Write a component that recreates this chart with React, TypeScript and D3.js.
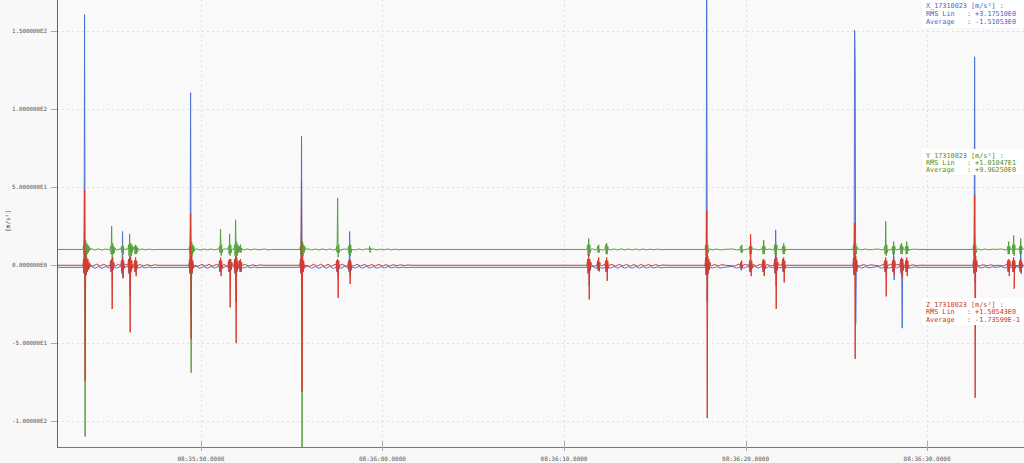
import React from "react";
import * as d3 from "d3";

// ---------- data ----------
// time in seconds after 08:35:00
const timeDomain = [42.07, 95.34];
const valueDomain = [-116.7, 169.9];
const xTickTimes = [50, 60, 70, 80, 90];
const xTickLabels = ["08:35:50.0000", "08:36:00.0000", "08:36:10.0000", "08:36:20.0000", "08:36:30.0000"];
const yTickValues = [150, 100, 50, 0, -50, -100];
const yAxisTitle = "[m/s²]";

const channelNames = ["X_17310023 [m/s²] :", "Y_17310023 [m/s²] :", "Z_17310023 [m/s²] :"];
const channelRms = ["+3.17510E0", "+1.01047E1", "+1.50543E0"];
const channelAvg = ["-1.51053E0", "+9.96250E0", "-1.73599E-1"];
const channelBase = [-1.51053, 9.9625, -0.173599];

const SPIKE_DT = 0.03;
const RIPPLE_DT = 0.2;

type Ev = { t: number; v: number[] };

// X channel (deviation from average)
const xSpikes: Ev[] = [
  { t: 43.5, v: [0, 3, -4, 162, -30, 6, -5, 4, -3, 2, 0] },
  { t: 44.99, v: [0, 2, -3, 3, -2, 0] },
  { t: 45.59, v: [0, 3, -4, 23, -7, 3, 0] },
  { t: 45.98, v: [0, 3, -4, 5, -18, 3, -2, 0] },
  { t: 46.31, v: [0, 2, -3, 3, -2, 0] },
  { t: 49.34, v: [0, 3, -4, 112, -30, 5, -4, 3, 0] },
  { t: 50.99, v: [0, 2, -3, 3, -2, 0] },
  { t: 51.49, v: [0, 2, -3, 4, -3, 0] },
  { t: 51.82, v: [0, 3, -4, 5, -22, 3, -2, 0] },
  { t: 52.09, v: [0, 2, -3, 3, -3, 0] },
  { t: 55.45, v: [0, 3, -4, 84, -12, 4, -3, 2, 0] },
  { t: 57.44, v: [0, 2, -3, 4, -6, 2, 0] },
  { t: 58.1, v: [0, 3, -3, 23, -6, 3, -2, 0] },
  { t: 71.27, v: [0, 3, -4, 5, -12, 3, -2, 0] },
  { t: 71.82, v: [0, 2, -2, 3, -2, 0] },
  { t: 72.26, v: [0, 2, -3, 3, -2, 0] },
  { t: 77.77, v: [0, 4, -5, 180, -22, 5, -4, 3, 0] },
  { t: 79.7, v: [0, 2, -2, 2, 0] },
  { t: 80.19, v: [0, 2, -3, 3, -2, 0] },
  { t: 80.91, v: [0, 2, -3, 3, -3, 0] },
  { t: 81.57, v: [0, 3, -4, 24, -12, 3, -2, 0] },
  { t: 82.01, v: [0, 2, -3, 3, -2, 0] },
  { t: 85.92, v: [0, 4, -5, 152, 130, -36, 5, -3, 0] },
  { t: 87.63, v: [0, 2, -3, 3, -3, 0] },
  { t: 88.07, v: [0, 3, -3, 14, -8, 3, 0] },
  { t: 88.51, v: [0, 3, -4, 5, -39, 3, -2, 0] },
  { t: 88.79, v: [0, 2, -3, 3, -2, 0] },
  { t: 92.53, v: [0, 3, -4, 135, -10, 4, -3, 0] },
  { t: 94.41, v: [0, 2, -3, 3, -2, 0] },
  { t: 94.68, v: [0, 2, -3, 4, -3, 0] },
  { t: 95.07, v: [0, 3, -3, 14, -4, 2, 0] },
];
const xRipples: Ev[] = [
  { t: 43.95, v: [0.7, -0.6, 0.5, -0.7, 0.6, -0.5, 0.6, -0.5, 0.5, -0.6, 0.5, -0.4, 0.5, -0.4, 0.4, -0.4, 0.3, -0.3, 0] },
  { t: 49.75, v: [0.7, -0.6, 0.5, -0.6, 0.6, -0.5, 0.5, -0.6, 0.6, -0.5, 0.4, -0.5, 0.5, -0.4, 0.4, -0.3, 0.3, -0.2, 0] },
  { t: 55.9, v: [0.8, -0.7, 0.6, -0.7, 0.7, -0.6, 0.6, -0.7, 0.7, -0.6, 0.6, -0.7, 0.6, -0.5, 0.6, -0.6, 0.7, -0.5, 0.5, -0.6, 0.5, -0.4, 0.5, -0.4, 0.3, -0.3, 0.2, -0.2, 0] },
  { t: 71.55, v: [0.7, -0.6, 0.6, -0.7, 0.6, -0.5, 0.6, -0.6, 0.7, -0.6, 0.5, -0.6, 0.6, -0.5, 0.5, -0.5, 0.4, -0.4, 0.3, -0.3, 0] },
  { t: 78.0, v: [0.5, -0.5, 0.4, -0.4, 0] },
  { t: 79.3, v: [0.6, -0.5, 0.6, -0.6, 0.5, -0.6, 0.6, -0.5, 0.5, -0.6, 0.5, -0.4, 0.4, -0.3, 0.3, 0] },
  { t: 86.2, v: [0.5, -0.5, 0.4, -0.3, 0] },
  { t: 87.3, v: [0.5, -0.6, 0.6, -0.5, 0.6, -0.5, 0.5, -0.5, 0.4, -0.4, 0.3, 0] },
  { t: 92.8, v: [0.5, -0.4, 0.4, -0.3, 0.3, 0] },
  { t: 94.1, v: [0.5, -0.5, 0.6, -0.5, 0.5, -0.4, 0.5] },
];

// Y channel
const ySpikes: Ev[] = [
  { t: 43.5, v: [0, 3, -3, 16, -120, 6, -5, 4, -3, 3, -2, 2, -1, 1, 0] },
  { t: 44.99, v: [0, 2, -3, 15, -6, 4, -3, 2, -2, 1, 0] },
  { t: 45.59, v: [0, 2, -2, 3, -3, 2, 0] },
  { t: 45.98, v: [0, 3, -4, 10, -5, 4, -4, 3, -2, 2, 0] },
  { t: 46.31, v: [0, 2, -3, 3, -3, 2, -2, 1, 0] },
  { t: 49.34, v: [0, 2, -3, 14, -79, 5, -4, 3, -2, 2, -1, 0] },
  { t: 50.99, v: [0, 2, -2, 13, -4, 3, -2, 0] },
  { t: 51.49, v: [0, 2, -3, 10, -4, 3, -2, 0] },
  { t: 51.82, v: [0, 3, -4, 19, -6, 5, -4, 3, -2, 2, -1, 0] },
  { t: 52.09, v: [0, 2, -2, 3, -2, 1, 0] },
  { t: 55.45, v: [0, 2, -3, 12, -135, 5, -4, 3, -2, 2, 0] },
  { t: 57.44, v: [0, 2, -2, 33, -5, 3, -2, 0] },
  { t: 58.1, v: [0, 2, -3, 6, -4, 3, -2, 0] },
  { t: 59.26, v: [0, 2, -2, 1, 0] },
  { t: 71.27, v: [0, 3, -4, 7, -4, 3, -2, 0] },
  { t: 71.82, v: [0, 2, -2, 3, -2, 0] },
  { t: 72.26, v: [0, 3, -3, 4, -3, 2, 0] },
  { t: 77.77, v: [0, 3, -4, 6, -5, 3, -2, 0] },
  { t: 79.7, v: [0, 2, -2, 3, -2, 0] },
  { t: 80.19, v: [0, 2, -3, 4, -3, 2, 0] },
  { t: 80.91, v: [0, 2, -3, 6, -3, 2, 0] },
  { t: 81.57, v: [0, 3, -3, 5, -4, 3, 0] },
  { t: 82.01, v: [0, 2, -3, 4, -3, 2, -1, 0] },
  { t: 85.92, v: [0, 3, -4, 16, -6, 4, -3, 2, 0] },
  { t: 87.63, v: [0, 2, -3, 18, -4, 3, -2, 0] },
  { t: 88.07, v: [0, 2, -3, 5, -3, 2, 0] },
  { t: 88.51, v: [0, 3, -3, 4, -3, 2, 0] },
  { t: 88.79, v: [0, 2, -3, 5, -3, 2, -1, 0] },
  { t: 92.53, v: [0, 3, -4, 8, -6, 3, -2, 0] },
  { t: 94.41, v: [0, 2, -3, 5, -3, 2, 0] },
  { t: 94.68, v: [0, 3, -3, 9, -4, 3, 0] },
  { t: 95.07, v: [0, 2, -3, 7, -3, 2, 0] },
];
const yRipples: Ev[] = [
  { t: 43.95, v: [0.5, -0.4, 0.4, -0.4, 0.3, -0.3, 0.4, -0.3, 0.3, -0.3, 0.3, -0.3, 0.3, -0.3, 0.3, -0.2, 0.2, -0.2, 0] },
  { t: 49.75, v: [0.4, -0.4, 0.3, -0.3, 0.3, -0.3, 0.3, -0.3, 0.4, -0.3, 0.3, -0.3, 0.4, -0.3, 0.3, -0.3, 0.3, -0.2, 0] },
  { t: 53.5, v: [0.3, -0.3, 0] },
  { t: 55.9, v: [0.4, -0.4, 0.3, -0.3, 0.3, -0.3, 0.3, -0.3, 0.3, -0.3, 0.3, -0.3, 0.3, -0.3, 0.3, -0.3, 0.4, -0.3, 0.3, -0.3, 0.2, -0.2, 0.3, -0.3, 0.2, -0.2, 0] },
  { t: 71.55, v: [0.4, -0.3, 0.3, -0.4, 0.3, -0.3, 0.3, -0.3, 0.4, -0.3, 0.3, -0.3, 0.3, -0.3, 0.3, -0.3, 0.2, -0.2, 0.2, -0.2, 0] },
  { t: 78.0, v: [0.3, -0.3, 0.3, -0.3, 0] },
  { t: 79.3, v: [0.3, -0.3, 0.4, -0.3, 0.3, -0.3, 0.3, -0.3, 0.3, -0.3, 0.3, -0.3, 0.2, -0.2, 0.2, 0] },
  { t: 86.2, v: [0.3, -0.3, 0.3, -0.2, 0] },
  { t: 87.3, v: [0.3, -0.3, 0.4, -0.3, 0.3, -0.3, 0.3, -0.3, 0.2, -0.2, 0.2, 0] },
  { t: 92.8, v: [0.3, -0.3, 0.3, -0.3, 0.2, 0] },
  { t: 94.1, v: [0.3, -0.3, 0.3, -0.3, 0.3, -0.3, 0.3] },
];

// Z channel
const zSpikes: Ev[] = [
  { t: 43.5, v: [0, 4, -5, 48, -74, 8, -6, 5, -4, 4, -3, 2, -2, 1, 0] },
  { t: 44.99, v: [0, 3, -4, 4, -28, 5, -3, 2, 0] },
  { t: 45.59, v: [0, 3, -4, 5, -8, 3, -2, 0] },
  { t: 45.98, v: [0, 4, -5, 6, -43, 5, -4, 3, -2, 0] },
  { t: 46.31, v: [0, 3, -4, 5, -7, 3, -2, 0] },
  { t: 49.34, v: [0, 4, -5, 33, -47, 6, -4, 3, -2, 0] },
  { t: 50.99, v: [0, 3, -4, 5, -7, 3, -2, 0] },
  { t: 51.49, v: [0, 3, -4, 4, -27, 4, -3, 2, 0] },
  { t: 51.82, v: [0, 4, -5, 6, -50, 5, -4, 3, -2, 0] },
  { t: 52.09, v: [0, 3, -3, 4, -4, 2, 0] },
  { t: 55.45, v: [0, 4, -5, 54, -81, 6, -4, 3, -2, 0] },
  { t: 57.44, v: [0, 3, -4, 4, -21, 3, -2, 0] },
  { t: 58.1, v: [0, 3, -3, 4, -12, 3, -2, 0] },
  { t: 71.27, v: [0, 4, -5, 7, -22, 4, -3, 2, 0] },
  { t: 71.82, v: [0, 3, -3, 5, -4, 2, 0] },
  { t: 72.26, v: [0, 3, -4, 5, -10, 3, -2, 0] },
  { t: 77.77, v: [0, 5, -6, 35, -98, 6, -5, 4, -3, 2, 0] },
  { t: 79.7, v: [0, 2, -2, 3, -2, 0] },
  { t: 80.19, v: [0, 3, -4, 20, -7, 3, -2, 0] },
  { t: 80.91, v: [0, 3, -4, 4, -7, 3, -2, 0] },
  { t: 81.57, v: [0, 4, -5, 6, -28, 5, -3, 2, 0] },
  { t: 82.01, v: [0, 4, -4, 5, -11, 3, -2, 0] },
  { t: 85.92, v: [0, 5, -6, 27, -60, 6, -4, 3, -2, 0] },
  { t: 87.63, v: [0, 3, -4, 5, -20, 3, -2, 0] },
  { t: 88.07, v: [0, 3, -4, 5, -6, 3, 0] },
  { t: 88.51, v: [0, 4, -4, 5, -8, 4, -3, 0] },
  { t: 88.79, v: [0, 3, -4, 5, -7, 3, -2, 0] },
  { t: 92.53, v: [0, 4, -5, 45, -85, 6, -4, 3, 0] },
  { t: 94.41, v: [0, 3, -4, 4, -7, 3, 0] },
  { t: 94.68, v: [0, 3, -4, 5, -15, 3, -2, 0] },
  { t: 95.07, v: [0, 3, -3, 4, -5, 2, 0] },
];
const zRipples: Ev[] = [
  { t: 44.05, v: [-0.6, 0.7, -0.5, 0.6, -0.6, 0.5, -0.6, 0.5, -0.5, 0.6, -0.5, 0.4, -0.5, 0.4, -0.4, 0.4, -0.3, 0.3, 0] },
  { t: 49.85, v: [-0.6, 0.6, -0.5, 0.6, -0.6, 0.5, -0.5, 0.6, -0.6, 0.5, -0.4, 0.5, -0.5, 0.4, -0.4, 0.3, -0.3, 0.2, 0] },
  { t: 56.0, v: [-0.7, 0.7, -0.6, 0.7, -0.7, 0.6, -0.6, 0.7, -0.6, 0.6, -0.7, 0.5, -0.6, 0.6, -0.5, 0.6, -0.6, 0.5, -0.5, 0.6, -0.5, 0.4, -0.5, 0.4, -0.3, 0.3, -0.2, 0.2, 0] },
  { t: 71.65, v: [-0.6, 0.7, -0.6, 0.6, -0.7, 0.5, -0.6, 0.6, -0.5, 0.6, -0.6, 0.5, -0.6, 0.5, -0.5, 0.5, -0.4, 0.4, -0.3, 0.2, 0] },
  { t: 78.1, v: [-0.5, 0.5, -0.4, 0.4, 0] },
  { t: 79.4, v: [-0.5, 0.6, -0.6, 0.5, -0.6, 0.6, -0.5, 0.5, -0.6, 0.5, -0.4, 0.4, -0.3, 0.3, -0.2, 0] },
  { t: 86.3, v: [-0.5, 0.5, -0.4, 0.3, 0] },
  { t: 87.4, v: [-0.5, 0.6, -0.5, 0.6, -0.5, 0.5, -0.5, 0.4, -0.4, 0.3, -0.2, 0] },
  { t: 92.9, v: [-0.4, 0.4, -0.4, 0.3, -0.2, 0] },
  { t: 94.2, v: [-0.5, 0.6, -0.5, 0.5, -0.4, 0.5, -0.4] },
];

const channelSpikes = [xSpikes, ySpikes, zSpikes];
const channelRipples = [xRipples, yRipples, zRipples];

// ---------- styles ----------
const W = 1024;
const H = 463;
const M = { left: 57, top: 0, right: 1024, bottom: 447 };
const lineColors = ["#4d72d6", "#55a03c", "#d8392c"];
const textColors = ["#3f68cc", "#4a9030", "#c9352a"];
const legendBoxes = [
  { x: 922, y: 0, h: 28, rows: [8.3, 16, 23.6] },
  { x: 922, y: 149, h: 26, rows: [157.5, 164.8, 172.1] },
  { x: 922, y: 298, h: 27, rows: [306.5, 314.2, 321.9] },
];
const MONO = "'DejaVu Sans Mono', 'Liberation Mono', monospace";

function fmtY(v: number): string {
  const s = v.toExponential(v < 0 ? 5 : 6);
  return s.replace("e+", "E").replace("e-", "E-").replace("e", "E");
}

function buildSeries(base: number, spikes: Ev[], ripples: Ev[]): [number, number][] {
  const pts: [number, number][] = [[timeDomain[0], base], [timeDomain[1], base]];
  spikes.forEach((e) => e.v.forEach((d, i) => pts.push([e.t + i * SPIKE_DT, base + d])));
  ripples.forEach((e) => e.v.forEach((d, i) => pts.push([e.t + i * RIPPLE_DT, base + d])));
  pts.sort((a, b) => a[0] - b[0]);
  return pts;
}

export default function App() {
  const x = d3.scaleLinear().domain(timeDomain).range([M.left, M.right]);
  const y = d3.scaleLinear().domain(valueDomain).range([M.bottom, M.top]);
  const line = d3
    .line<[number, number]>()
    .x((d) => x(d[0]))
    .y((d) => y(d[1]));

  const series = channelBase.map((b, i) => buildSeries(b, channelSpikes[i], channelRipples[i]));

  return (
    <svg
      width={W}
      height={H}
      style={{ position: "absolute", left: 0, top: 0, display: "block" }}
      fontFamily={MONO}
    >
      <defs>
        <clipPath id="plotClip">
          <rect x={M.left + 0.5} y={M.top} width={M.right - M.left} height={M.bottom - M.top} />
        </clipPath>
      </defs>
      <rect x={0} y={0} width={W} height={H} fill="#f8f8f8" />
      <rect x={M.left} y={M.top} width={M.right - M.left} height={M.bottom - M.top} fill="#f9f9f9" />

      {/* grid */}
      {yTickValues.map((v) => (
        <line
          key={"gy" + v}
          x1={M.left}
          x2={M.right}
          y1={Math.round(y(v)) + 0.5}
          y2={Math.round(y(v)) + 0.5}
          stroke="#e0e0e0"
          strokeDasharray="2,3"
        />
      ))}
      {xTickTimes.map((t) => (
        <line
          key={"gx" + t}
          x1={Math.round(x(t)) + 0.5}
          x2={Math.round(x(t)) + 0.5}
          y1={M.top}
          y2={M.bottom}
          stroke="#e0e0e0"
          strokeDasharray="2,3"
        />
      ))}

      {/* series */}
      <g clipPath="url(#plotClip)">
        {series.map((pts, i) => (
          <path key={"s" + i} d={line(pts) || ""} fill="none" stroke={lineColors[i]} strokeWidth={1} />
        ))}
      </g>

      {/* axes */}
      <line x1={M.left + 0.5} x2={M.left + 0.5} y1={M.top} y2={M.bottom} stroke="#666" />
      <line x1={M.left} x2={M.right} y1={M.bottom + 0.5} y2={M.bottom + 0.5} stroke="#777" />
      {yTickValues.map((v) => (
        <g key={"ty" + v}>
          <line x1={51} x2={M.left} y1={Math.round(y(v)) + 0.5} y2={Math.round(y(v)) + 0.5} stroke="#aaa" />
          <text x={12} y={y(v) + 2} fontSize={5.8} fill="#555">
            {fmtY(v)}
          </text>
        </g>
      ))}
      {xTickTimes.map((t, i) => (
        <g key={"tx" + t}>
          <line x1={Math.round(x(t)) + 0.5} x2={Math.round(x(t)) + 0.5} y1={441} y2={451} stroke="#aaa" />
          <text x={x(t)} y={461} fontSize={6} fill="#555" textAnchor="middle">
            {xTickLabels[i]}
          </text>
        </g>
      ))}
      <text
        transform={`translate(10,${221}) rotate(-90)`}
        fontSize={6}
        fill="#555"
        textAnchor="middle"
      >
        {yAxisTitle}
      </text>

      {/* legends */}
      {legendBoxes.map((b, i) => (
        <g key={"lg" + i}>
          <rect x={b.x} y={b.y} width={W - b.x} height={b.h} fill="#ffffff" />
          {[channelNames[i], `RMS Lin   : ${channelRms[i]}`, `Average   : ${channelAvg[i]}`].map((s, j) => (
            <text
              key={j}
              x={926}
              y={b.rows[j]}
              fontSize={6.8}
              fill={textColors[i]}
              style={{ whiteSpace: "pre" }}
            >
              {s}
            </text>
          ))}
        </g>
      ))}
    </svg>
  );
}
